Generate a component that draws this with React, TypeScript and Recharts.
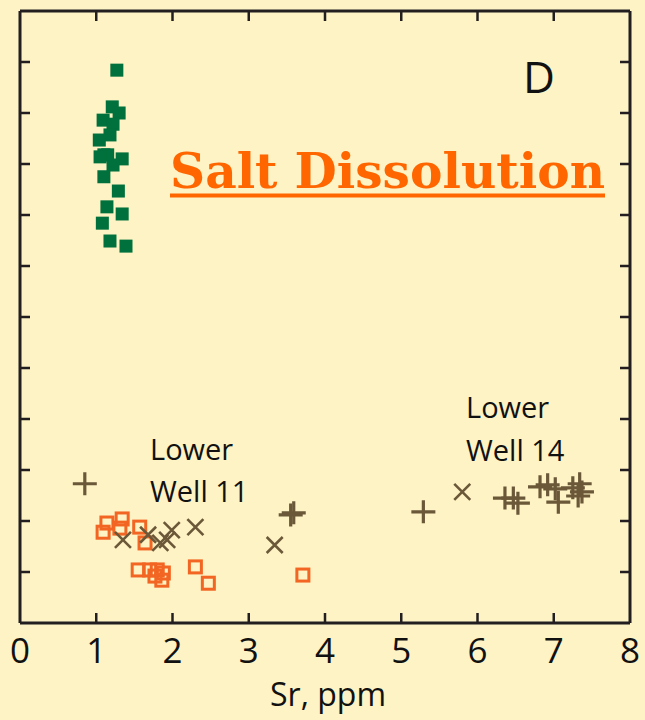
import { ScatterChart, Scatter, XAxis, YAxis } from "recharts";

const BG = "#fdf3c4";
const FRAME = "#231f20";
const GREEN = "#00703c";
const ORANGE = "#f26522";
const BROWN = "#6b5839";
const TITLE = "#ff6600";

const X_TICKS = [0, 1, 2, 3, 4, 5, 6, 7, 8];
const Y_TICKS = [0, 1, 2, 3, 4, 5, 6, 7, 8, 9, 10, 11, 12];

// salt dissolution samples (filled green squares)
const saltSr = [1.27, 1.21, 1.3, 1.09, 1.22, 1.18, 1.04, 1.1, 1.15, 1.34, 1.05, 1.22, 1.1, 1.29, 1.14, 1.34, 1.08, 1.18, 1.39];
const saltY = [10.84, 10.12, 10.0, 9.86, 9.78, 9.57, 9.47, 9.18, 9.18, 9.1, 9.14, 8.98, 8.75, 8.47, 8.16, 8.02, 7.84, 7.49, 7.39];

// open orange squares
const openSr = [1.09, 1.14, 1.34, 1.31, 1.57, 1.64, 1.55, 1.7, 1.8, 1.88, 1.77, 1.86, 2.3, 2.47, 3.71];
const openY = [1.78, 1.96, 2.04, 1.86, 1.88, 1.57, 1.04, 1.04, 1.04, 0.98, 0.92, 0.84, 1.1, 0.78, 0.94];

// brown crosses (x)
const crossSr = [1.35, 1.68, 1.84, 1.93, 1.99, 2.3, 3.34, 5.8];
const crossY = [1.63, 1.73, 1.57, 1.63, 1.82, 1.88, 1.53, 2.57];

// brown plus signs
const plusSr = [0.85, 3.55, 3.59, 5.29, 6.36, 6.47, 6.53, 6.82, 6.92, 7.02, 7.06, 7.25, 7.34, 7.32, 7.37];
const plusY = [2.73, 2.12, 2.16, 2.18, 2.45, 2.45, 2.35, 2.67, 2.71, 2.63, 2.37, 2.65, 2.73, 2.49, 2.57];

const zip = (xs: number[], ys: number[]) => xs.map((x, i) => ({ sr: x, v: ys[i] }));

const salt = zip(saltSr, saltY);
const open = zip(openSr, openY);
const crosses = zip(crossSr, crossY);
const plus = zip(plusSr, plusY);

const SANS = "'Open Sans', 'Noto Sans', sans-serif";
const TICK = 10;

const FilledSquare = ({ cx, cy }: any) => (
  <rect x={cx - 6.5} y={cy - 6.5} width={13} height={13} fill={GREEN} />
);

const OpenSquare = ({ cx, cy }: any) => (
  <rect x={cx - 6} y={cy - 6} width={12} height={12} fill="none" stroke={ORANGE} strokeWidth={3} />
);

const Cross = ({ cx, cy }: any) => (
  <path
    d={`M${cx - 8},${cy - 8}L${cx + 8},${cy + 8}M${cx - 8},${cy + 8}L${cx + 8},${cy - 8}`}
    stroke={BROWN}
    strokeWidth={2.6}
  />
);

const Plus = ({ cx, cy }: any) => (
  <path
    d={`M${cx - 12},${cy}L${cx + 12},${cy}M${cx},${cy - 11.5}L${cx},${cy + 11.5}`}
    stroke={BROWN}
    strokeWidth={3.2}
  />
);

const BottomTick = ({ x, y, payload }: any) => (
  <g>
    {payload.value > 0 && payload.value < 8 && (
      <line x1={x} y1={y} x2={x} y2={y - TICK} stroke={FRAME} strokeWidth={2.5} />
    )}
    <text x={x} y={y + 40} textAnchor="middle" fontFamily={SANS} fontSize={35} fill="#111">
      {payload.value}
    </text>
  </g>
);

const TopTick = ({ x, y }: any) => (
  <line x1={x} y1={y} x2={x} y2={y + TICK} stroke={FRAME} strokeWidth={2.5} />
);

const LeftTick = ({ x, y }: any) => (
  <line x1={x} y1={y} x2={x + TICK} y2={y} stroke={FRAME} strokeWidth={2.5} />
);

const RightTick = ({ x, y }: any) => (
  <line x1={x} y1={y} x2={x - TICK} y2={y} stroke={FRAME} strokeWidth={2.5} />
);

export default function App() {
  const axisLine = { stroke: FRAME, strokeWidth: 3 };
  return (
    <div style={{ position: "absolute", left: 0, top: 0, width: 645, height: 720, background: BG }}>
      <ScatterChart width={645} height={720} margin={{ top: 10, right: 14, bottom: 96, left: 19 }}>
        <XAxis
          xAxisId="b"
          type="number"
          dataKey="sr"
          domain={[0, 8]}
          ticks={X_TICKS}
          allowDataOverflow
          height={1}
          tickSize={0}
          tickMargin={0}
          tickLine={false}
          axisLine={axisLine}
          tick={<BottomTick />}
          interval={0}
        />
        <XAxis
          xAxisId="t"
          orientation="top"
          type="number"
          dataKey="sr"
          domain={[0, 8]}
          ticks={X_TICKS.slice(1, -1)}
          allowDataOverflow
          height={1}
          tickSize={0}
          tickMargin={0}
          tickLine={false}
          axisLine={axisLine}
          tick={<TopTick />}
          interval={0}
        />
        <YAxis
          yAxisId="l"
          type="number"
          dataKey="v"
          domain={[0, 12]}
          ticks={Y_TICKS.slice(1, -1)}
          allowDataOverflow
          width={1}
          tickSize={0}
          tickMargin={0}
          tickLine={false}
          axisLine={axisLine}
          tick={<LeftTick />}
          interval={0}
        />
        <YAxis
          yAxisId="r"
          orientation="right"
          type="number"
          dataKey="v"
          domain={[0, 12]}
          ticks={Y_TICKS.slice(1, -1)}
          allowDataOverflow
          width={1}
          tickSize={0}
          tickMargin={0}
          tickLine={false}
          axisLine={axisLine}
          tick={<RightTick />}
          interval={0}
        />
        <Scatter xAxisId="b" yAxisId="l" data={open} shape={<OpenSquare />} isAnimationActive={false} />
        <Scatter xAxisId="b" yAxisId="l" data={crosses} shape={<Cross />} isAnimationActive={false} />
        <Scatter xAxisId="b" yAxisId="l" data={plus} shape={<Plus />} isAnimationActive={false} />
        <Scatter xAxisId="b" yAxisId="l" data={salt} shape={<FilledSquare />} isAnimationActive={false} />
      </ScatterChart>
      <svg
        width={645}
        height={720}
        style={{ position: "absolute", left: 0, top: 0, pointerEvents: "none" }}
      >
        <text x={523} y={93} fontFamily={SANS} fontSize={44} fill="#111">
          D
        </text>
        <text
          x={170}
          y={188}
          fontFamily="'DejaVu Serif', serif"
          fontWeight="bold"
          fontSize={49}
          fill={TITLE}
          textLength={435}
          lengthAdjust="spacingAndGlyphs"
        >
          Salt Dissolution
        </text>
        <rect x={170} y={193.5} width={435} height={4} fill={TITLE} />
        <text x={150} y={460} fontFamily={SANS} fontSize={29} fill="#111">
          Lower
        </text>
        <text x={150} y={502} fontFamily={SANS} fontSize={29} fill="#111">
          Well 11
        </text>
        <text x={466} y={418} fontFamily={SANS} fontSize={29} fill="#111">
          Lower
        </text>
        <text x={466} y={461} fontFamily={SANS} fontSize={29} fill="#111">
          Well 14
        </text>
        <text x={328} y={706} textAnchor="middle" fontFamily={SANS} fontSize={32} fill="#111">
          Sr, ppm
        </text>
      </svg>
    </div>
  );
}
